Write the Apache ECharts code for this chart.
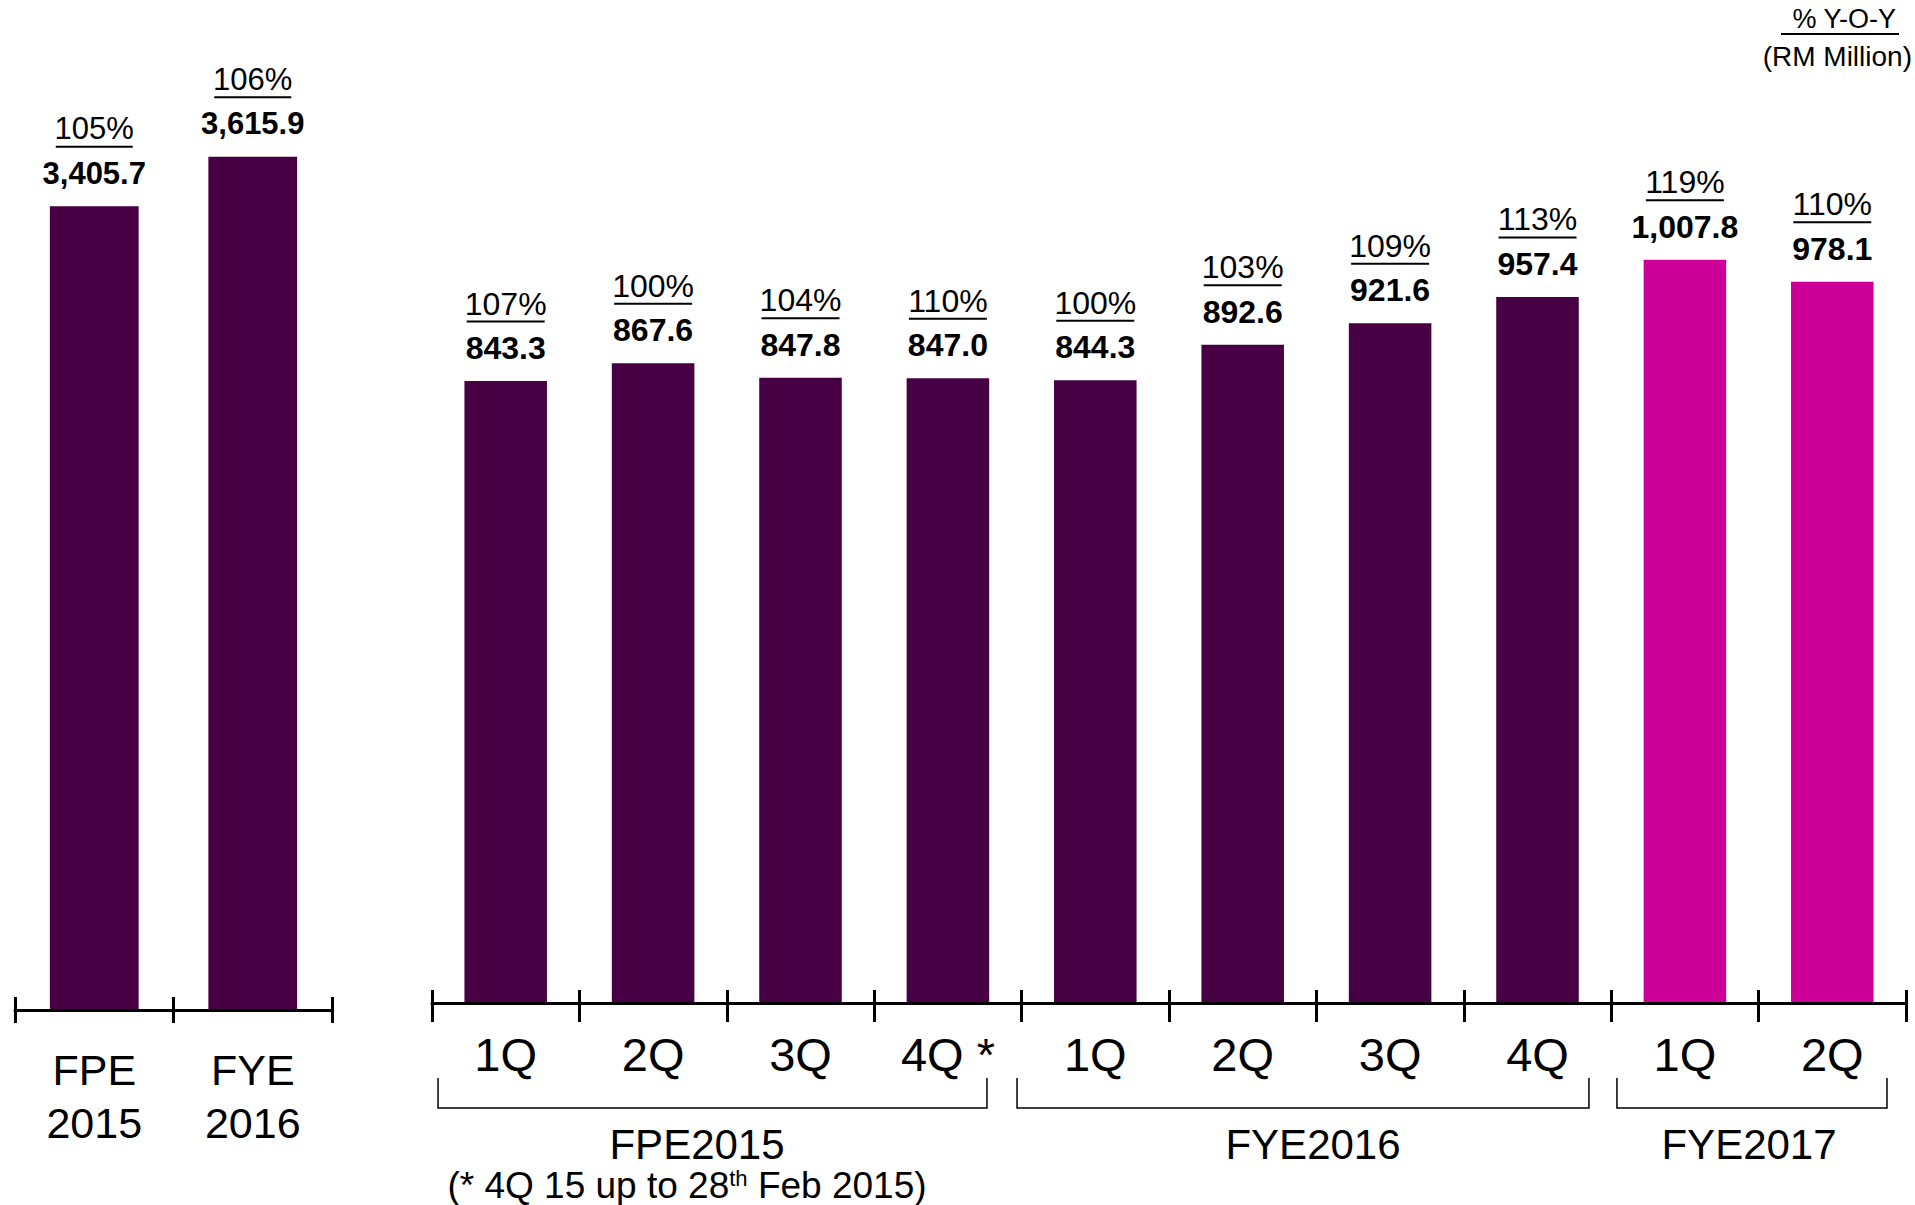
<!DOCTYPE html>
<html>
<head>
<meta charset="utf-8">
<script src="https://cdn.jsdelivr.net/npm/echarts@6/dist/echarts.min.js"></script>
<style>
html,body{margin:0;padding:0;background:#ffffff;}
#chart{width:1915px;height:1205px;}
</style>
</head>
<body>
<div id="chart"></div>
<script>
// ---------------- data ----------------
const annualCategories = ['FPE\n2015', 'FYE\n2016'];
const annualRevenue = [3405.7, 3615.9];
const annualYoY = [105, 106];

const quarterLabels = ['1Q', '2Q', '3Q', '4Q *', '1Q', '2Q', '3Q', '4Q', '1Q', '2Q'];
const quarterPeriods = ['FPE2015', 'FPE2015', 'FPE2015', 'FPE2015', 'FYE2016', 'FYE2016', 'FYE2016', 'FYE2016', 'FYE2017', 'FYE2017'];
const quarterRevenue = [843.3, 867.6, 847.8, 847.0, 844.3, 892.6, 921.6, 957.4, 1007.8, 978.1];
const quarterYoY = [107, 100, 104, 110, 100, 103, 109, 113, 119, 110];

const periodNames = ['FPE2015', 'FYE2016', 'FYE2017'];
const highlightPeriod = 'FYE2017';
const footnoteParts = ['(* 4Q 15 up to 28', 'th', ' Feb 2015)'];
const unitLines = ['% Y-O-Y', '(RM Million)'];

// ---------------- layout / style ----------------
const NARROW = '"Liberation Sans Narrow","Arial Narrow","Liberation Sans",Arial,sans-serif';
const SANS = '"Liberation Sans",Arial,Helvetica,sans-serif';
const PURPLE = '#470043';
const MAGENTA = '#CC0099';
// bracket spans & label centres in category units measured from the left edge of the quarterly axis
const bracketLayout = {
  FPE2015: {from: 0.041, to: 3.765, label: 1.798},
  FYE2016: {from: 3.969, to: 7.849, label: 5.977},
  FYE2017: {from: 8.039, to: 9.871, label: 8.935}
};
const footnoteCenter = 1.73;

const fmt = v => v.toLocaleString('en-US', {minimumFractionDigits: 1, maximumFractionDigits: 1});

function valueLabel(yoy, size, ulw, dist) {
  return {
    show: true,
    position: 'top',
    distance: dist,
    formatter: p => '{p|' + yoy[p.dataIndex] + '%}\n{u|}\n{v|' + fmt(p.value) + '}',
    rich: {
      p: {fontFamily: NARROW, fontSize: size, lineHeight: 33, color: '#000', align: 'center'},
      u: {width: ulw, height: 2, lineHeight: 3, backgroundColor: '#000', align: 'center'},
      v: {fontFamily: NARROW, fontSize: size, fontWeight: 'bold', lineHeight: 50, color: '#000', align: 'center'}
    }
  };
}

function mainAxis(gridIndex, data, fontSize, lineHeight, margin, tickLen) {
  return {
    type: 'category', gridIndex: gridIndex, data: data, position: 'bottom', z: 5,
    axisLine: {show: true, lineStyle: {color: '#000', width: 3}},
    axisTick: {show: true, inside: false, length: tickLen, interval: 0, lineStyle: {color: '#000', width: 3}},
    axisLabel: {show: true, interval: 0, fontFamily: SANS, fontSize: fontSize, lineHeight: lineHeight, margin: margin, color: '#000'},
    splitLine: {show: false}
  };
}
function tickAxis(gridIndex, data) {
  return {
    type: 'category', gridIndex: gridIndex, data: data, position: 'bottom', offset: 0, z: 5,
    axisLine: {show: false},
    axisTick: {show: true, inside: true, length: 13, interval: 0, lineStyle: {color: '#000', width: 3}},
    axisLabel: {show: false},
    splitLine: {show: false}
  };
}

const chart = echarts.init(document.getElementById('chart'), null, {renderer: 'svg'});

chart.setOption({
  animation: false,
  backgroundColor: '#ffffff',
  grid: [
    {left: 15, width: 317, top: 66, bottom: 195, containLabel: false},
    {left: 432, width: 1474, top: 118, bottom: 202, containLabel: false}
  ],
  xAxis: [
    mainAxis(0, annualCategories, 43, 53, 33, 13),
    tickAxis(0, annualCategories),
    mainAxis(1, quarterLabels, 47, 48, 27, 19),
    tickAxis(1, quarterLabels)
  ],
  yAxis: [
    {type: 'value', gridIndex: 0, min: 0, max: 4000, show: false, splitLine: {show: false}},
    {type: 'value', gridIndex: 1, min: 0, max: 1200, show: false, splitLine: {show: false}}
  ],
  series: [
    {
      type: 'bar', name: 'Annual', xAxisIndex: 0, yAxisIndex: 0,
      data: annualRevenue, barWidth: '56%',
      itemStyle: {color: PURPLE},
      label: valueLabel(annualYoY, 31, 77, 8)
    },
    {
      type: 'bar', name: 'Quarterly', xAxisIndex: 2, yAxisIndex: 1,
      data: quarterRevenue, barWidth: '56%',
      itemStyle: {color: p => quarterPeriods[p.dataIndex] === highlightPeriod ? MAGENTA : PURPLE},
      label: valueLabel(quarterYoY, 32, 78, 8)
    }
  ]
});

// ---------------- annotations derived from the quarterly axis ----------------
const x0 = chart.convertToPixel({xAxisIndex: 2}, 0);
const x1 = chart.convertToPixel({xAxisIndex: 2}, 1);
const catW = x1 - x0;
const leftEdge = x0 - catW / 2;
const axisY = chart.convertToPixel({yAxisIndex: 1}, 0);
const ux = u => leftEdge + u * catW;

const graphics = [];
periodNames.forEach(name => {
  const b = bracketLayout[name];
  graphics.push({
    type: 'polyline', silent: true,
    shape: {points: [[ux(b.from), axisY + 75], [ux(b.from), axisY + 105], [ux(b.to), axisY + 105], [ux(b.to), axisY + 75]]},
    style: {stroke: '#000', lineWidth: 1.5, fill: null}
  });
  graphics.push({
    type: 'text', silent: true, x: ux(b.label), y: axisY + 141,
    style: {text: name, fontFamily: SANS, fontSize: 42, fill: '#000', align: 'center', verticalAlign: 'middle'}
  });
});
graphics.push({
  type: 'text', silent: true, x: ux(footnoteCenter), y: axisY + 182,
  style: {
    text: '{a|' + footnoteParts[0] + '}{s|' + footnoteParts[1] + '}{a|' + footnoteParts[2] + '}',
    align: 'center', verticalAlign: 'middle',
    rich: {
      a: {fontFamily: SANS, fontSize: 37, lineHeight: 36, fill: '#000', color: '#000'},
      s: {fontFamily: SANS, fontSize: 22, lineHeight: 36, verticalAlign: 'top', fill: '#000', color: '#000'}
    }
  }
});
// unit note, top right
graphics.push({
  type: 'text', silent: true, x: 1896, y: 19,
  style: {text: unitLines[0], fontFamily: SANS, fontSize: 27, fill: '#000', align: 'right', verticalAlign: 'middle'}
});
graphics.push({
  type: 'line', silent: true,
  shape: {x1: 1781, y1: 34, x2: 1899, y2: 34},
  style: {stroke: '#000', lineWidth: 2}
});
graphics.push({
  type: 'text', silent: true, x: 1912, y: 56,
  style: {text: unitLines[1], fontFamily: SANS, fontSize: 28, fill: '#000', align: 'right', verticalAlign: 'middle'}
});
chart.setOption({graphic: graphics});
</script>
</body>
</html>
